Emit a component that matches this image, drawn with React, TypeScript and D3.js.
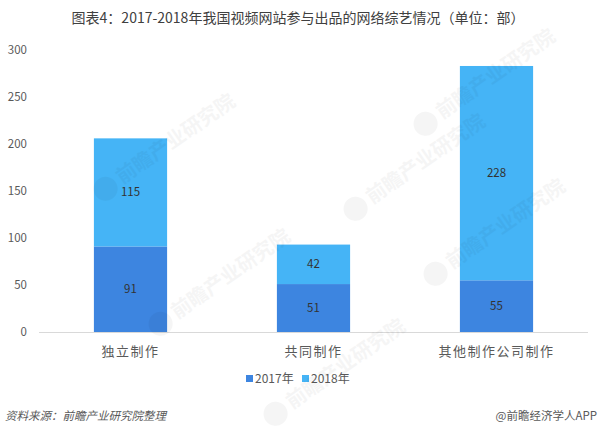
import React from "react";
import * as d3 from "d3";

const categories = ["独立制作", "共同制作", "其他制作公司制作"];
const series2017 = [91, 51, 55];
const series2018 = [115, 42, 228];
const seriesNames = ["2017年", "2018年"];
const yTicks = [0, 50, 100, 150, 200, 250, 300];
const title = "图表4：2017-2018年我国视频网站参与出品的网络综艺情况（单位：部）";
const sourceText = "资料来源：前瞻产业研究院整理";
const brandText = "@前瞻经济学人APP";

const W = 600;
const H = 433;
const colors = ["#3d85e0", "#45b4f6"];
const font = "'Microsoft YaHei', 'Noto Sans CJK SC', 'Noto Sans', sans-serif";

export default function App() {
  const x = d3.scaleBand<string>().domain(categories).range([39, 588]).paddingInner(0.6).paddingOuter(0.3);
  const y = d3.scaleLinear().domain([0, 300]).range([332, 50]);
  const rows = categories.map((c, i) => ({ c, a: series2017[i], b: series2018[i] }));
  const stack = d3.stack<any>().keys(["a", "b"])(rows);

  const watermarks = [
    [150, 165], [205, 300], [400, 185], [470, 100], [320, 390], [480, 250],
  ];

  return (
    <svg width={W} height={H} style={{ position: "absolute", left: 0, top: 0, background: "#fff" }}>
      <rect width={W} height={H} fill="#fff" />
      <text x={298} y={23} textAnchor="middle" fontSize={14} fill="#404040" fontFamily={font}>
        {title}
      </text>
      {yTicks.map((t) => (
        <text key={t} x={27} y={y(t) + 4} textAnchor="end" fontSize={11.5} fill="#595959" fontFamily={font}>
          {t}
        </text>
      ))}
      {stack.map((s, si) =>
        s.map((d, i) => (
          <g key={si + "-" + i}>
            <rect
              x={x(categories[i])}
              y={y(d[1])}
              width={x.bandwidth()}
              height={y(d[0]) - y(d[1])}
              fill={colors[si]}
            />
            <text
              x={(x(categories[i]) as number) + x.bandwidth() / 2}
              y={(y(d[0]) + y(d[1])) / 2 + 4}
              textAnchor="middle"
              fontSize={11.5}
              fill="#333"
              fontFamily={font}
            >
              {d[1] - d[0]}
            </text>
          </g>
        ))
      )}
      <line x1={39} x2={588} y1={y(0) + 0.5} y2={y(0) + 0.5} stroke="#d9d9d9" strokeWidth={1} />
      {categories.map((c) => (
        <text
          key={c}
          x={(x(c) as number) + x.bandwidth() / 2}
          y={356}
          textAnchor="middle"
          fontSize={13}
          fill="#595959"
          letterSpacing={1.5}
          fontFamily={font}
        >
          {c}
        </text>
      ))}
      {seriesNames.map((n, i) => (
        <g key={n} transform={`translate(${246 + i * 56},0)`}>
          <rect x={0} y={375} width={7} height={7} fill={colors[i]} />
          <text x={9} y={383} fontSize={12} fill="#595959" fontFamily={font}>
            {n}
          </text>
        </g>
      ))}
      <text x={5} y={420} fontSize={11.5} fill="#595959" fontStyle="italic" fontFamily={font}>
        {sourceText}
      </text>
      <text x={597} y={420} textAnchor="end" fontSize={11.5} fill="#595959" fontFamily={font}>
        {brandText}
      </text>
      {watermarks.map(([wx, wy], i) => (
        <g key={i} transform={`translate(${wx},${wy}) rotate(-35)`} opacity={0.035}>
          <circle cx={-50} cy={-6} r={12} fill="#000" />
          <text x={-34} y={0} fontSize={20} fontWeight="bold" fill="#000" fontFamily={font}>
            前瞻产业研究院
          </text>
        </g>
      ))}
    </svg>
  );
}
